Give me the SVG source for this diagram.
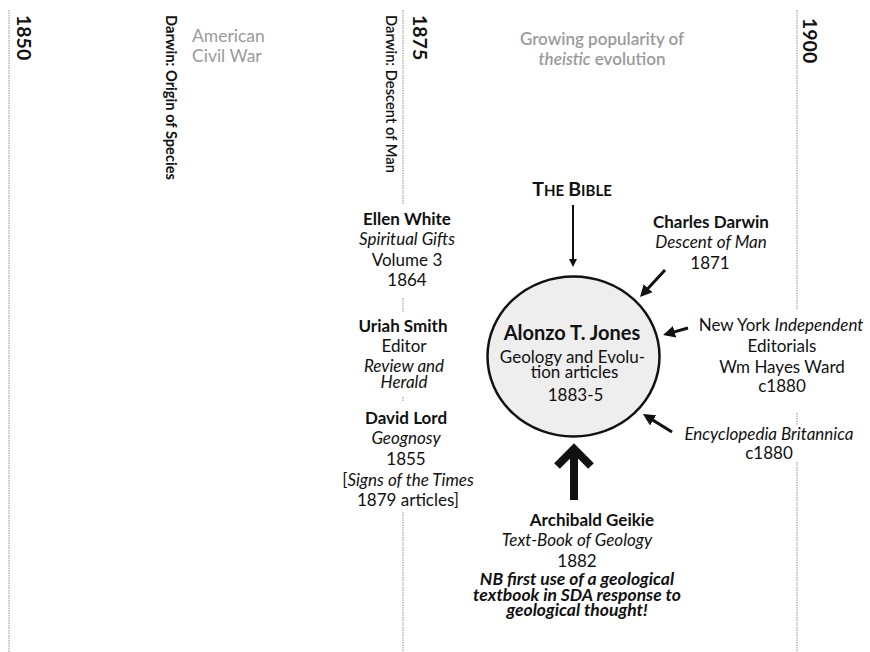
<svg xmlns="http://www.w3.org/2000/svg" width="870" height="652" viewBox="0 0 870 652">
<style>
text{font-family:Lato,"Liberation Sans",sans-serif;fill:#111;font-size:17px}
.c{text-anchor:middle}
.b{font-weight:bold}
.i{font-style:italic}
.g{fill:#9a9a9a}
.yr{font-weight:bold;font-size:19.5px}
.vl{stroke:#a8a8a8;stroke-width:1.3;stroke-dasharray:1.5 1;fill:none}
.ar{stroke:#111;fill:none}
.nb{font-weight:bold;font-style:italic;font-size:17.5px}
</style>
<defs>
<marker id="ah" viewBox="0 0 10 10" refX="7" refY="5" markerWidth="4" markerHeight="4" markerUnits="strokeWidth" orient="auto">
<path d="M0,0 L10,5 L0,10 z" fill="#111"/>
</marker>
</defs>
<rect width="870" height="652" fill="#fff"/>

<g id="timeline">
<line class="vl" x1="9" y1="10" x2="9" y2="652"/>
<path class="vl" d="M403,10 V205 M403,298 V313 M403,397 V402 M403,512 V652"/>
<path class="vl" d="M797,10 V310 M797,413 V425 M797,462 V652"/>
</g>

<g id="year-1850"><text class="yr" transform="translate(17,15) rotate(90)">1850</text></g>
<g id="year-1875"><text class="yr" transform="translate(413,15) rotate(90)">1875</text></g>
<g id="year-1900"><text class="yr" transform="translate(803,18) rotate(90)">1900</text></g>

<g id="origin-of-species"><text class="b" style="font-size:14.5px" transform="translate(166,15) rotate(90)" textLength="165" lengthAdjust="spacingAndGlyphs">Darwin:  Origin of Species</text></g>
<g id="descent-of-man"><text style="font-size:15px;font-weight:600" transform="translate(386,15) rotate(90)" textLength="158" lengthAdjust="spacingAndGlyphs">Darwin:  Descent of Man</text></g>

<g id="civil-war">
<text class="g" style="font-size:17.5px" x="192" y="42">American</text>
<text class="g" style="font-size:17.5px" x="192" y="62">Civil War</text>
</g>

<g id="theistic">
<text class="g c" style="font-weight:600" x="602" y="45">Growing popularity of</text>
<text class="g c" style="font-weight:600" x="602" y="65"><tspan class="i">theistic</tspan> evolution</text>
</g>

<g id="bible">
<text class="c b" x="572" y="196"><tspan style="font-size:19.5px">T</tspan><tspan style="font-size:15px">HE</tspan> <tspan style="font-size:19.5px">B</tspan><tspan style="font-size:15px">IBLE</tspan></text>
</g>

<g id="jones">
<ellipse cx="573.5" cy="356.5" rx="86" ry="80" fill="#eeeeee" stroke="#111" stroke-width="2.5"/>
<text class="c b" style="font-size:20px" x="572" y="340">Alonzo T. Jones</text>
<text class="c" x="572.5" y="363">Geology and Evolu-</text>
<text class="c" x="574.5" y="378">tion articles</text>
<text class="c" x="575.5" y="401">1883-5</text>
</g>

<g id="ellen-white">
<text class="c b" x="407" y="225">Ellen White</text>
<text class="c i" x="407" y="245">Spiritual Gifts</text>
<text class="c" x="407" y="266">Volume 3</text>
<text class="c" x="407" y="286">1864</text>
</g>

<g id="uriah-smith">
<text class="c b" x="403" y="332">Uriah Smith</text>
<text class="c" x="404" y="352">Editor</text>
<text class="c i" x="404" y="372">Review and</text>
<text class="c i" x="404" y="388">Herald</text>
</g>

<g id="david-lord">
<text class="c b" x="406" y="424">David Lord</text>
<text class="c i" x="406" y="444">Geognosy</text>
<text class="c" x="406" y="465">1855</text>
<text class="c" x="408" y="486">[<tspan class="i">Signs of the Times</tspan></text>
<text class="c" x="408" y="506">1879 articles]</text>
</g>

<g id="charles-darwin">
<text class="c b" x="711" y="228">Charles Darwin</text>
<text class="c i" x="711" y="248">Descent of Man</text>
<text class="c" x="710" y="269">1871</text>
</g>

<g id="ny-independent">
<text class="c" x="781" y="331">New York <tspan class="i">Independent</tspan></text>
<text class="c" x="782" y="352">Editorials</text>
<text class="c" x="782" y="373">Wm Hayes Ward</text>
<text class="c" x="782" y="392">c1880</text>
</g>

<g id="britannica">
<text class="c i" x="769" y="440">Encyclopedia Britannica</text>
<text class="c" x="769" y="459">c1880</text>
</g>

<g id="geikie">
<text class="c b" x="592" y="526">Archibald Geikie</text>
<text class="c i" x="577" y="546">Text-Book of Geology</text>
<text class="c" x="577" y="567">1882</text>
<text class="c nb" x="577" y="585">NB first use of a geological</text>
<text class="c nb" x="577" y="601">textbook in SDA response to</text>
<text class="c nb" x="577" y="616">geological thought!</text>
</g>

<g id="connectors">
<line class="ar" stroke-width="2" x1="573" y1="205" x2="573" y2="264.6" marker-end="url(#ah)"/>
<line class="ar" stroke-width="3" x1="665" y1="270" x2="642.4" y2="294.4" marker-end="url(#ah)"/>
<line class="ar" stroke-width="3" x1="688" y1="328" x2="666.5" y2="334.1" marker-end="url(#ah)"/>
<line class="ar" stroke-width="3" x1="672" y1="432" x2="646" y2="415.9" marker-end="url(#ah)"/>
<path class="ar" stroke-width="8" d="M574,500 V450 M557,466 L574,449 L591,466" stroke-linejoin="miter"/>
</g>
</svg>
